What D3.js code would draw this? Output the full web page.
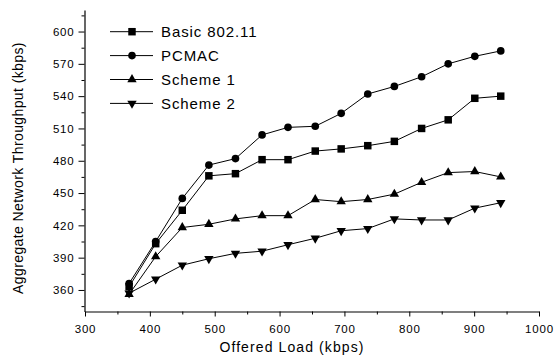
<!DOCTYPE html>
<html>
<head>
<meta charset="utf-8">
<script src="https://cdn.jsdelivr.net/npm/d3@7"></script>
<style>
  html, body { margin: 0; padding: 0; background: #fff; }
  svg { display: block; }
  text { font-family: Arial, "Liberation Sans", sans-serif; fill: #000; }
</style>
</head>
<body>
<svg id="chart" width="556" height="364"></svg>
<script>
const offeredLoad = [368, 409, 450, 491, 532, 573, 613, 655, 695, 736, 777, 819, 860, 901, 941];
const basic80211 = [363, 403, 434, 466, 468, 481, 481, 489, 491, 494, 498, 510, 518, 538, 540];
const pcmac      = [366, 405, 445, 476, 482, 504, 511, 512, 524, 542, 549, 558, 570, 577, 582];
const scheme1    = [356, 391, 418, 421, 426, 429, 429, 444, 442, 444, 449, 460, 469, 470, 465];
const scheme2    = [357, 370, 383, 389, 394, 396, 402, 408, 415, 417, 426, 425, 425, 436, 441];
const seriesNames = ["Basic 802.11", "PCMAC", "Scheme 1", "Scheme 2"];
const xTicks = [300, 400, 500, 600, 700, 800, 900, 1000];
const xMinorTicks = [350, 450, 550, 650, 750, 850, 950];
const yTicks = [360, 390, 420, 450, 480, 510, 540, 570, 600];
const yMinorTicks = [345, 375, 405, 435, 465, 495, 525, 555, 585, 615];
const xTitle = "Offered Load (kbps)";
const yTitle = "Aggregate Network Throughput (kbps)";

const svg = d3.select("#chart");
const x = d3.scaleLinear().domain([300, 1000]).range([85, 539]);
const y = d3.scaleLinear().domain([340, 620]).range([311.5, 10]);

// Axes
const xAxis = svg.append("g").attr("transform", "translate(0,311.5)")
  .call(d3.axisBottom(x).tickValues(xTicks).tickSize(5).tickSizeOuter(0).tickFormat(d3.format("d")));
svg.append("g").attr("transform", "translate(0,311.5)")
  .call(d3.axisBottom(x).tickValues(xMinorTicks).tickSize(3).tickSizeOuter(0).tickFormat(""))
  .select(".domain").remove();
const yAxis = svg.append("g").attr("transform", "translate(84.5,0)")
  .call(d3.axisLeft(y).tickValues(yTicks).tickSize(6).tickSizeOuter(0).tickFormat(d3.format("d")));
svg.append("g").attr("transform", "translate(84.5,0)")
  .call(d3.axisLeft(y).tickValues(yMinorTicks).tickSize(3).tickSizeOuter(0).tickFormat(""))
  .select(".domain").remove();

svg.selectAll(".domain").attr("stroke", "#000").attr("stroke-width", 1.2);
svg.selectAll(".tick line").attr("stroke", "#000").attr("stroke-width", 1);
xAxis.selectAll(".tick text")
  .attr("font-size", 11.5).attr("letter-spacing", "0.8px")
  .attr("font-family", "Arial, 'Liberation Sans', sans-serif")
  .attr("fill", "#000").attr("y", 13.6).attr("dy", "0.71em");
yAxis.selectAll(".tick text")
  .attr("font-size", 11.5).attr("letter-spacing", "0.8px")
  .attr("font-family", "Arial, 'Liberation Sans', sans-serif")
  .attr("fill", "#000").attr("x", -10);

// Titles
svg.append("text").attr("x", 292).attr("y", 352).attr("text-anchor", "middle")
  .attr("font-size", 14).attr("letter-spacing", "1.1px").text(xTitle);
svg.append("text").attr("transform", "translate(23,168) rotate(-90)").attr("text-anchor", "middle")
  .attr("font-size", 14).attr("letter-spacing", "0.4px").text(yTitle);

// Series
const series = [
  { name: seriesNames[0], values: basic80211, symbol: d3.symbolSquare, size: 56, rot: 0 },
  { name: seriesNames[1], values: pcmac, symbol: d3.symbolCircle, size: 46, rot: 0 },
  { name: seriesNames[2], values: scheme1, symbol: d3.symbolTriangle, size: 38, rot: 0 },
  { name: seriesNames[3], values: scheme2, symbol: d3.symbolTriangle, size: 38, rot: 180 }
];

const line = d3.line().x(d => x(d[0])).y(d => y(d[1]));
series.forEach(s => {
  const pts = offeredLoad.map((v, i) => [v, s.values[i]]);
  svg.append("path").datum(pts).attr("d", line)
    .attr("fill", "none").attr("stroke", "#000").attr("stroke-width", 1);
  svg.append("g").selectAll("path").data(pts).join("path")
    .attr("d", d3.symbol().type(s.symbol).size(s.size))
    .attr("transform", d => `translate(${x(d[0])},${y(d[1])}) rotate(${s.rot})`)
    .attr("fill", "#000");
});

// Legend
const legend = svg.append("g");
series.forEach((s, i) => {
  const cy = 31.7 + i * 23.9;
  legend.append("line").attr("x1", 110).attr("x2", 153).attr("y1", cy).attr("y2", cy)
    .attr("stroke", "#000").attr("stroke-width", 1);
  legend.append("path").attr("d", d3.symbol().type(s.symbol).size(s.size))
    .attr("transform", `translate(132,${cy}) rotate(${s.rot})`).attr("fill", "#000");
  legend.append("text").attr("x", 161).attr("y", cy).attr("dy", "0.36em")
    .attr("font-size", 15).attr("letter-spacing", "0.9px").text(s.name);
});
</script>
</body>
</html>
